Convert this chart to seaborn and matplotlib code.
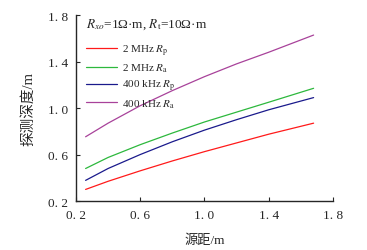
import matplotlib
matplotlib.use("Agg")
import matplotlib.pyplot as plt
import pandas as pd
import seaborn as sns

# source spacing (m) and depth of investigation (m)
spacing = [0.26, 0.4, 0.6, 0.8, 1.0, 1.2, 1.4, 1.68]
depth_2m_rp = [0.30, 0.37, 0.46, 0.545, 0.625, 0.70, 0.775, 0.87]
depth_2m_ra = [0.48, 0.575, 0.685, 0.785, 0.88, 0.965, 1.05, 1.17]
depth_400k_rp = [0.378, 0.48, 0.60, 0.71, 0.81, 0.90, 0.985, 1.09]
depth_400k_ra = [0.753, 0.87, 1.02, 1.15, 1.27, 1.38, 1.48, 1.628]

ticks = [0.2, 0.6, 1.0, 1.4, 1.8]
tick_labels = ["0. 2", "0. 6", "1. 0", "1. 4", "1. 8"]

labels = [r"2 MHz $R_\mathrm{p}$", r"2 MHz $R_\mathrm{a}$",
          r"400 kHz $R_\mathrm{p}$", r"400 kHz $R_\mathrm{a}$"]
colors = ["#ff1a1a", "#2db83d", "#1a1a8c", "#a8429a"]

frames = []
for lab, vals in zip(labels, [depth_2m_rp, depth_2m_ra, depth_400k_rp, depth_400k_ra]):
    frames.append(pd.DataFrame({"spacing": spacing, "depth": vals, "curve": lab}))
df = pd.concat(frames)

sns.set_style("ticks")
plt.rcParams["font.family"] = ["Liberation Serif", "Noto Sans CJK SC"]
plt.rcParams["mathtext.fontset"] = "stix"

fig = plt.figure(figsize=(3.67, 2.51), dpi=100)
ax = fig.add_axes([0.207, 0.195, 0.70, 0.741])

sns.lineplot(data=df, x="spacing", y="depth", hue="curve", palette=colors,
             linewidth=0.9, ax=ax)

ax.set_xlim(0.2, 1.8)
ax.set_ylim(0.2, 1.8)
ax.set_xticks(ticks)
ax.set_yticks(ticks)
ax.set_xticklabels(tick_labels)
ax.set_yticklabels(tick_labels)
ax.tick_params(direction="in", length=3, width=0.8, labelsize=9.5, pad=6)
for s in ["top", "right"]:
    ax.spines[s].set_visible(False)
for s in ["left", "bottom"]:
    ax.spines[s].set_linewidth(1.0)

ax.set_xlabel("源距/m", fontsize=9.5, labelpad=9)
ax.set_ylabel("探测深度/m", fontsize=10.5, labelpad=9)

ax.text(0.04, 0.995, r"$R_{xo}$=1Ω·m, $R_\mathrm{t}$=10Ω·m", transform=ax.transAxes,
        fontsize=9.5, va="top", ha="left")
ax.legend(title=None, loc="upper left", bbox_to_anchor=(0.0, 0.905), frameon=False,
          fontsize=8, handlelength=2.8, handletextpad=0.4, labelspacing=0.35)

fig.savefig("out.png", dpi=100)
